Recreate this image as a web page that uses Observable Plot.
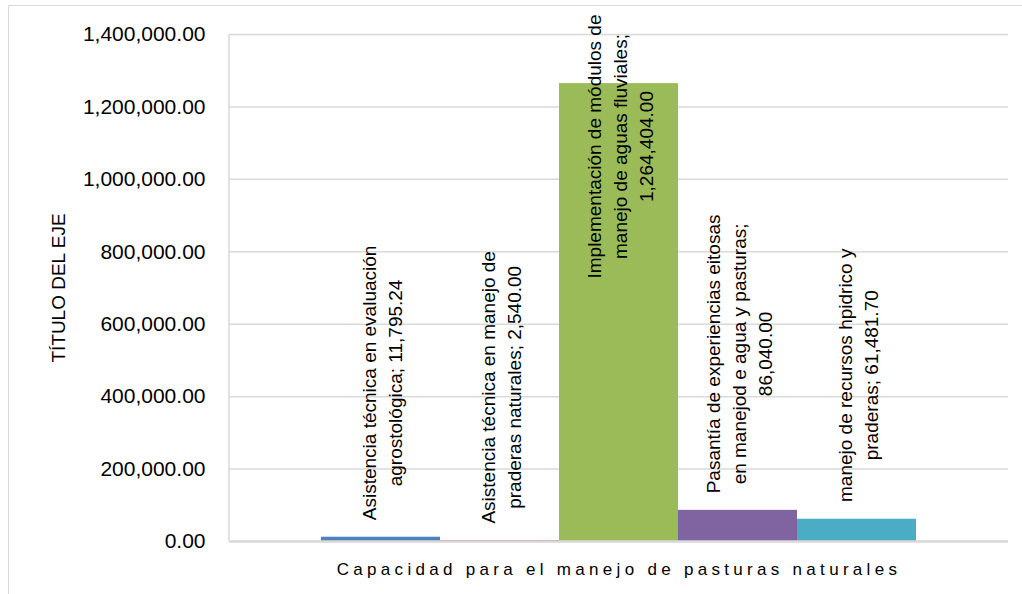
<!DOCTYPE html>
<html><head><meta charset="utf-8">
<script src="https://cdn.jsdelivr.net/npm/d3@7"></script>
<script src="https://cdn.jsdelivr.net/npm/@observablehq/plot@0.6"></script>
<style>
html,body{margin:0;padding:0;background:#fff;overflow:hidden;}
#wrap{position:relative;width:1022px;height:594px;overflow:hidden;}
#border{position:absolute;left:8px;top:5px;width:1014px;height:589px;border-top:1.5px solid #d9d9d9;border-left:1.5px solid #d9d9d9;border-right:none;border-bottom:none;box-sizing:border-box;}
#chart{position:absolute;left:0;top:0;}
.xtitle text{letter-spacing:4.3px;}
</style></head><body>
<div id="wrap"><div id="border"></div><div id="chart"></div></div>
<script>
const categories = [
  "Asistencia técnica en evaluación\nagrostológica",
  "Asistencia técnica en manejo de\npraderas naturales",
  "Implementación de módulos de\nmanejo de aguas fluviales",
  "Pasantía de experiencias eitosas\nen manejod e agua y pasturas",
  "manejo de recursos hpidrico y\npraderas"
];
const values = [11795.24, 2540.00, 1264404.00, 86040.00, 61481.70];
const valueBreaks = [" ", " ", "\n", "\n", " "];
const colors = ["#4f81bd", "#c0504d", "#9bbb59", "#8064a2", "#4bacc6"];
const yTicks = [0, 200000, 400000, 600000, 800000, 1000000, 1200000, 1400000];
const xTitle = "Capacidad para el manejo de pasturas naturales";
const yTitle = "TÍTULO DEL EJE";

const fmt = d3.format(",.2f");
const data = categories.map((c, i) => ({
  category: c,
  value: values[i],
  label: c + ";" + valueBreaks[i] + fmt(values[i])
}));

// left edge line of the plot frame (no right/top/bottom sides)
function leftAxisLine(index, scales, values, dims) {
  const ns = "http://www.w3.org/2000/svg";
  const line = document.createElementNS(ns, "line");
  line.setAttribute("x1", dims.marginLeft);
  line.setAttribute("x2", dims.marginLeft);
  line.setAttribute("y1", dims.marginTop);
  line.setAttribute("y2", dims.height - dims.marginBottom);
  line.setAttribute("stroke", "#d9d9d9");
  line.setAttribute("stroke-width", 1.5);
  return line;
}

const plot = Plot.plot({
  width: 1022, height: 594,
  marginLeft: 229, marginRight: 14, marginTop: 34, marginBottom: 53,
  style: {fontFamily: "'Liberation Sans', Arial, sans-serif", background: "transparent", color: "#000"},
  x: {domain: categories, paddingInner: 0, paddingOuter: 0.746, axis: null},
  y: {domain: [0, 1400000], axis: null},
  color: {domain: categories, range: colors},
  marks: [
    Plot.gridY(yTicks, {stroke: "#d9d9d9", strokeOpacity: 1, strokeWidth: 1.5}),
    leftAxisLine,
    Plot.barY(data, {x: "category", y: "value", fill: "category"}),
    Plot.ruleY([0], {stroke: "#d9d9d9", strokeWidth: 2.5}),
    Plot.axisY(yTicks, {tickSize: 0, tickPadding: 24, tickFormat: fmt, fontSize: 21, label: null, fill: "#000"}),
    Plot.text(data, {x: "category", y: "value", text: "label", rotate: -90, textAnchor: "middle", lineAnchor: "middle", fontSize: 19, lineHeight: 1.37, fill: "#000", className: "barlabel"}),
    Plot.text([xTitle], {frameAnchor: "bottom", dy: 28, lineAnchor: "middle", textAnchor: "middle", fontSize: 17, fill: "#000", className: "xtitle"}),
    Plot.text([yTitle], {frameAnchor: "left", dx: -171, rotate: -90, textAnchor: "middle", lineAnchor: "middle", fontSize: 19, fill: "#000"})
  ]
});
document.getElementById("chart").appendChild(plot);

// place the rotated labels above their bars (outside end), keeping them inside the chart
const gap = 17, topLimit = 14;
plot.querySelectorAll("g.barlabel text").forEach(t => {
  const m = /translate\(([-\d.e]+),\s*([-\d.e]+)\)/.exec(t.getAttribute("transform"));
  if (!m) return;
  const x = +m[1], y = +m[2];
  const w = t.getBBox().width;
  let center = y - gap - w / 2;
  if (center - w / 2 < topLimit) center = topLimit + w / 2;
  t.setAttribute("transform", `translate(${x},${center}) rotate(-90)`);
});
</script>
</body></html>
